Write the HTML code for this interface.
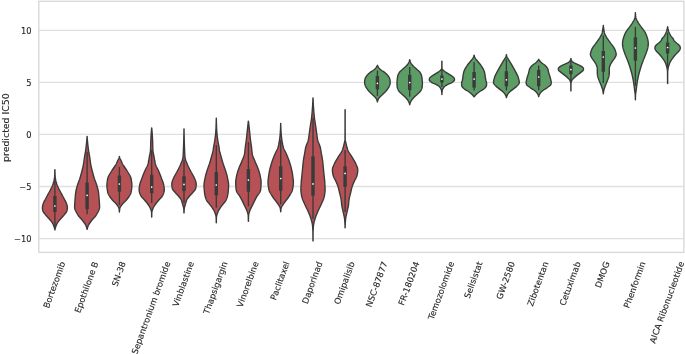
<!DOCTYPE html>
<html><head><meta charset="utf-8"><title>predicted IC50 violin plot</title>
<style>
html,body{margin:0;padding:0;background:#fff;}
svg{display:block}
text{font-family:"DejaVu Sans","Liberation Sans",sans-serif;font-size:8.3px;fill:#262626;stroke:#262626;stroke-width:0.12px}
</style></head>
<body>
<svg width="685" height="354" viewBox="0 0 685 354">
<rect x="0" y="0" width="685" height="354" fill="#ffffff"/>
<g id="grid">
<line x1="38.8" x2="683.9" y1="30.3" y2="30.3" stroke="#e0e0e0" stroke-width="1.3"/>
<line x1="38.8" x2="683.9" y1="82.3" y2="82.3" stroke="#e0e0e0" stroke-width="1.3"/>
<line x1="38.8" x2="683.9" y1="134.4" y2="134.4" stroke="#e0e0e0" stroke-width="1.3"/>
<line x1="38.8" x2="683.9" y1="186.5" y2="186.5" stroke="#e0e0e0" stroke-width="1.3"/>
<line x1="38.8" x2="683.9" y1="238.6" y2="238.6" stroke="#e0e0e0" stroke-width="1.3"/>
</g>
<g id="violins">
<path d="M54.85,169.70 54.84,170.45 54.83,171.20 54.81,171.95 54.79,172.70 54.77,173.45 54.74,174.20 54.72,174.95 54.68,175.70 54.64,176.45 54.58,177.20 54.49,177.95 54.36,178.70 54.21,179.45 54.06,180.20 53.88,180.95 53.68,181.70 53.46,182.45 53.24,183.20 53.01,183.95 52.76,184.70 52.48,185.45 52.18,186.20 51.84,186.95 51.49,187.70 51.12,188.45 50.74,189.20 50.35,189.95 49.95,190.70 49.55,191.45 49.16,192.20 48.76,192.95 48.36,193.70 47.95,194.45 47.53,195.20 47.13,195.95 46.73,196.70 46.33,197.45 45.93,198.20 45.54,198.95 45.15,199.70 44.77,200.45 44.36,201.20 43.95,201.95 43.60,202.70 43.32,203.45 43.09,204.20 42.87,204.95 42.68,205.70 42.52,206.45 42.43,207.20 42.40,207.95 42.45,208.70 42.56,209.45 42.71,210.20 42.89,210.95 43.19,211.70 43.68,212.45 44.29,213.20 44.91,213.95 45.49,214.70 46.12,215.45 46.79,216.20 47.48,216.95 48.17,217.70 48.85,218.45 49.51,219.20 50.13,219.95 50.70,220.70 51.28,221.45 51.84,222.20 52.35,222.95 52.80,223.70 53.17,224.45 53.49,225.20 53.79,225.95 54.07,226.70 54.32,227.45 54.54,228.20 54.71,228.95 54.83,229.70 54.85,229.90 54.95,229.90 54.97,229.70 55.09,228.95 55.26,228.20 55.48,227.45 55.73,226.70 56.01,225.95 56.31,225.20 56.63,224.45 57.00,223.70 57.45,222.95 57.96,222.20 58.52,221.45 59.10,220.70 59.67,219.95 60.29,219.20 60.95,218.45 61.63,217.70 62.32,216.95 63.01,216.20 63.68,215.45 64.31,214.70 64.89,213.95 65.51,213.20 66.12,212.45 66.61,211.70 66.91,210.95 67.09,210.20 67.24,209.45 67.35,208.70 67.40,207.95 67.37,207.20 67.28,206.45 67.12,205.70 66.93,204.95 66.71,204.20 66.48,203.45 66.20,202.70 65.85,201.95 65.44,201.20 65.03,200.45 64.65,199.70 64.26,198.95 63.87,198.20 63.47,197.45 63.07,196.70 62.67,195.95 62.27,195.20 61.85,194.45 61.44,193.70 61.04,192.95 60.64,192.20 60.25,191.45 59.85,190.70 59.45,189.95 59.06,189.20 58.68,188.45 58.31,187.70 57.96,186.95 57.62,186.20 57.32,185.45 57.04,184.70 56.79,183.95 56.56,183.20 56.34,182.45 56.12,181.70 55.92,180.95 55.74,180.20 55.59,179.45 55.44,178.70 55.31,177.95 55.22,177.20 55.16,176.45 55.12,175.70 55.08,174.95 55.06,174.20 55.03,173.45 55.01,172.70 54.99,171.95 54.97,171.20 54.96,170.45 54.95,169.70Z" fill="#b65255" stroke="#3a3a3a" stroke-width="1.38" stroke-linejoin="round"/>
<line x1="54.9" x2="54.9" y1="180" y2="227" stroke="#3a3a3a" stroke-width="1.35"/>
<line x1="54.9" x2="54.9" y1="196" y2="212" stroke="#3a3a3a" stroke-width="3.4"/>
<circle cx="54.9" cy="206" r="0.85" fill="#fff"/>
<path d="M87.05,136.50 87.01,137.25 86.96,138.00 86.91,138.75 86.85,139.50 86.79,140.25 86.72,141.00 86.65,141.75 86.58,142.50 86.50,143.25 86.43,144.00 86.34,144.75 86.26,145.50 86.17,146.25 86.08,147.00 85.99,147.75 85.89,148.50 85.80,149.25 85.70,150.00 85.59,150.75 85.48,151.50 85.35,152.25 85.21,153.00 85.07,153.75 84.93,154.50 84.80,155.25 84.66,156.00 84.54,156.75 84.43,157.50 84.32,158.25 84.22,159.00 84.12,159.75 84.03,160.50 83.93,161.25 83.83,162.00 83.73,162.75 83.62,163.50 83.49,164.25 83.35,165.00 83.20,165.75 83.04,166.50 82.87,167.25 82.70,168.00 82.52,168.75 82.33,169.50 82.14,170.25 81.95,171.00 81.76,171.75 81.57,172.50 81.37,173.25 81.16,174.00 80.95,174.75 80.74,175.50 80.52,176.25 80.30,177.00 80.07,177.75 79.84,178.50 79.59,179.25 79.32,180.00 79.04,180.75 78.76,181.50 78.47,182.25 78.20,183.00 77.93,183.75 77.67,184.50 77.44,185.25 77.23,186.00 77.01,186.75 76.80,187.50 76.60,188.25 76.40,189.00 76.22,189.75 76.05,190.50 75.90,191.25 75.77,192.00 75.67,192.75 75.57,193.50 75.49,194.25 75.41,195.00 75.33,195.75 75.27,196.50 75.20,197.25 75.15,198.00 75.09,198.75 75.04,199.50 74.98,200.25 74.93,201.00 74.87,201.75 74.81,202.50 74.76,203.25 74.71,204.00 74.67,204.75 74.63,205.50 74.61,206.25 74.60,207.00 74.64,207.75 74.77,208.50 74.97,209.25 75.25,210.00 75.57,210.75 75.94,211.50 76.34,212.25 76.75,213.00 77.16,213.75 77.57,214.50 78.05,215.25 78.62,216.00 79.24,216.75 79.91,217.50 80.59,218.25 81.27,219.00 81.94,219.75 82.57,220.50 83.14,221.25 83.69,222.00 84.24,222.75 84.77,223.50 85.26,224.25 85.67,225.00 86.00,225.75 86.29,226.50 86.55,227.25 86.77,228.00 86.94,228.75 87.05,229.40 87.15,229.40 87.26,228.75 87.43,228.00 87.65,227.25 87.91,226.50 88.20,225.75 88.53,225.00 88.94,224.25 89.43,223.50 89.96,222.75 90.51,222.00 91.06,221.25 91.63,220.50 92.26,219.75 92.93,219.00 93.61,218.25 94.29,217.50 94.96,216.75 95.58,216.00 96.15,215.25 96.63,214.50 97.04,213.75 97.45,213.00 97.86,212.25 98.26,211.50 98.63,210.75 98.95,210.00 99.23,209.25 99.43,208.50 99.56,207.75 99.60,207.00 99.59,206.25 99.57,205.50 99.53,204.75 99.49,204.00 99.44,203.25 99.39,202.50 99.33,201.75 99.27,201.00 99.22,200.25 99.16,199.50 99.11,198.75 99.05,198.00 99.00,197.25 98.93,196.50 98.87,195.75 98.79,195.00 98.71,194.25 98.63,193.50 98.53,192.75 98.43,192.00 98.30,191.25 98.15,190.50 97.98,189.75 97.80,189.00 97.60,188.25 97.40,187.50 97.19,186.75 96.97,186.00 96.76,185.25 96.53,184.50 96.27,183.75 96.00,183.00 95.73,182.25 95.44,181.50 95.16,180.75 94.88,180.00 94.61,179.25 94.36,178.50 94.13,177.75 93.90,177.00 93.68,176.25 93.46,175.50 93.25,174.75 93.04,174.00 92.83,173.25 92.63,172.50 92.44,171.75 92.25,171.00 92.06,170.25 91.87,169.50 91.68,168.75 91.50,168.00 91.33,167.25 91.16,166.50 91.00,165.75 90.85,165.00 90.71,164.25 90.58,163.50 90.47,162.75 90.37,162.00 90.27,161.25 90.17,160.50 90.08,159.75 89.98,159.00 89.88,158.25 89.77,157.50 89.66,156.75 89.54,156.00 89.40,155.25 89.27,154.50 89.13,153.75 88.99,153.00 88.85,152.25 88.72,151.50 88.61,150.75 88.50,150.00 88.40,149.25 88.31,148.50 88.21,147.75 88.12,147.00 88.03,146.25 87.94,145.50 87.86,144.75 87.77,144.00 87.70,143.25 87.62,142.50 87.55,141.75 87.48,141.00 87.41,140.25 87.35,139.50 87.29,138.75 87.24,138.00 87.19,137.25 87.15,136.50Z" fill="#b65255" stroke="#3a3a3a" stroke-width="1.38" stroke-linejoin="round"/>
<line x1="87.1" x2="87.1" y1="151.7" y2="214.2" stroke="#3a3a3a" stroke-width="1.35"/>
<line x1="87.1" x2="87.1" y1="182.6" y2="209.2" stroke="#3a3a3a" stroke-width="3.4"/>
<circle cx="87.1" cy="195.3" r="0.85" fill="#fff"/>
<path d="M119.35,156.50 119.21,157.25 119.00,158.00 118.68,158.75 118.26,159.50 117.88,160.25 117.55,161.00 117.23,161.75 116.90,162.50 116.57,163.25 116.20,164.00 115.80,164.75 115.34,165.50 114.85,166.25 114.34,167.00 113.81,167.75 113.28,168.50 112.76,169.25 112.25,170.00 111.77,170.75 111.32,171.50 110.86,172.25 110.39,173.00 109.92,173.75 109.46,174.50 109.03,175.25 108.63,176.00 108.29,176.75 108.01,177.50 107.81,178.25 107.66,179.00 107.52,179.75 107.38,180.50 107.26,181.25 107.15,182.00 107.06,182.75 106.98,183.50 106.93,184.25 106.90,185.00 106.90,185.75 106.93,186.50 106.98,187.25 107.05,188.00 107.14,188.75 107.24,189.50 107.37,190.25 107.50,191.00 107.65,191.75 107.80,192.50 108.00,193.25 108.29,194.00 108.66,194.75 109.09,195.50 109.57,196.25 110.10,197.00 110.66,197.75 111.23,198.50 111.82,199.25 112.40,200.00 113.05,200.75 113.82,201.50 114.63,202.25 115.43,203.00 116.14,203.75 116.72,204.50 117.28,205.25 117.82,206.00 118.30,206.75 118.69,207.50 118.95,208.25 119.08,209.00 119.18,209.75 119.27,210.50 119.33,211.25 119.35,212.00 119.35,212.10 119.45,212.10 119.45,212.00 119.47,211.25 119.53,210.50 119.62,209.75 119.72,209.00 119.85,208.25 120.11,207.50 120.50,206.75 120.98,206.00 121.52,205.25 122.08,204.50 122.66,203.75 123.37,203.00 124.17,202.25 124.98,201.50 125.75,200.75 126.40,200.00 126.98,199.25 127.57,198.50 128.14,197.75 128.70,197.00 129.23,196.25 129.71,195.50 130.14,194.75 130.51,194.00 130.80,193.25 131.00,192.50 131.15,191.75 131.30,191.00 131.43,190.25 131.56,189.50 131.66,188.75 131.75,188.00 131.82,187.25 131.87,186.50 131.90,185.75 131.90,185.00 131.87,184.25 131.82,183.50 131.74,182.75 131.65,182.00 131.54,181.25 131.42,180.50 131.28,179.75 131.14,179.00 130.99,178.25 130.79,177.50 130.51,176.75 130.17,176.00 129.77,175.25 129.34,174.50 128.88,173.75 128.41,173.00 127.94,172.25 127.48,171.50 127.03,170.75 126.55,170.00 126.04,169.25 125.52,168.50 124.99,167.75 124.46,167.00 123.95,166.25 123.46,165.50 123.00,164.75 122.60,164.00 122.23,163.25 121.90,162.50 121.57,161.75 121.25,161.00 120.92,160.25 120.54,159.50 120.12,158.75 119.80,158.00 119.59,157.25 119.45,156.50Z" fill="#b65255" stroke="#3a3a3a" stroke-width="1.38" stroke-linejoin="round"/>
<line x1="119.4" x2="119.4" y1="167" y2="205" stroke="#3a3a3a" stroke-width="1.35"/>
<line x1="119.4" x2="119.4" y1="175.5" y2="191.8" stroke="#3a3a3a" stroke-width="3.4"/>
<circle cx="119.4" cy="184" r="0.85" fill="#fff"/>
<path d="M151.65,128.00 151.58,128.75 151.52,129.50 151.46,130.25 151.39,131.00 151.33,131.75 151.28,132.50 151.22,133.25 151.17,134.00 151.11,134.75 151.06,135.50 151.02,136.25 150.97,137.00 150.93,137.75 150.89,138.50 150.85,139.25 150.82,140.00 150.79,140.75 150.76,141.50 150.74,142.25 150.72,143.00 150.70,143.75 150.68,144.50 150.66,145.25 150.65,146.00 150.63,146.75 150.60,147.50 150.58,148.25 150.55,149.00 150.51,149.75 150.47,150.50 150.39,151.25 150.29,152.00 150.16,152.75 150.02,153.50 149.87,154.25 149.72,155.00 149.56,155.75 149.41,156.50 149.27,157.25 149.14,158.00 149.01,158.75 148.88,159.50 148.75,160.25 148.62,161.00 148.47,161.75 148.32,162.50 148.15,163.25 147.95,164.00 147.73,164.75 147.46,165.50 147.13,166.25 146.78,167.00 146.40,167.75 146.02,168.50 145.63,169.25 145.25,170.00 144.90,170.75 144.57,171.50 144.26,172.25 143.95,173.00 143.64,173.75 143.34,174.50 143.04,175.25 142.75,176.00 142.47,176.75 142.19,177.50 141.92,178.25 141.65,179.00 141.36,179.75 141.08,180.50 140.80,181.25 140.53,182.00 140.27,182.75 140.04,183.50 139.84,184.25 139.67,185.00 139.54,185.75 139.42,186.50 139.30,187.25 139.21,188.00 139.14,188.75 139.10,189.50 139.12,190.25 139.21,191.00 139.36,191.75 139.56,192.50 139.81,193.25 140.08,194.00 140.38,194.75 140.69,195.50 141.14,196.25 141.72,197.00 142.40,197.75 143.13,198.50 143.84,199.25 144.50,200.00 145.13,200.75 145.77,201.50 146.40,202.25 147.01,203.00 147.58,203.75 148.10,204.50 148.61,205.25 149.09,206.00 149.55,206.75 149.95,207.50 150.30,208.25 150.59,209.00 150.89,209.75 151.16,210.50 151.38,211.25 151.54,212.00 151.60,212.75 151.62,213.50 151.63,214.25 151.64,215.00 151.65,215.75 151.65,216.50 151.65,217.10 151.75,217.10 151.75,216.50 151.75,215.75 151.76,215.00 151.77,214.25 151.78,213.50 151.80,212.75 151.86,212.00 152.02,211.25 152.24,210.50 152.51,209.75 152.81,209.00 153.10,208.25 153.45,207.50 153.85,206.75 154.31,206.00 154.79,205.25 155.30,204.50 155.82,203.75 156.39,203.00 157.00,202.25 157.63,201.50 158.27,200.75 158.90,200.00 159.56,199.25 160.27,198.50 161.00,197.75 161.68,197.00 162.26,196.25 162.71,195.50 163.02,194.75 163.32,194.00 163.59,193.25 163.84,192.50 164.04,191.75 164.19,191.00 164.28,190.25 164.30,189.50 164.26,188.75 164.19,188.00 164.10,187.25 163.98,186.50 163.86,185.75 163.73,185.00 163.56,184.25 163.36,183.50 163.13,182.75 162.87,182.00 162.60,181.25 162.32,180.50 162.04,179.75 161.75,179.00 161.48,178.25 161.21,177.50 160.93,176.75 160.65,176.00 160.36,175.25 160.06,174.50 159.76,173.75 159.45,173.00 159.14,172.25 158.83,171.50 158.50,170.75 158.15,170.00 157.77,169.25 157.38,168.50 157.00,167.75 156.62,167.00 156.27,166.25 155.94,165.50 155.67,164.75 155.45,164.00 155.25,163.25 155.08,162.50 154.93,161.75 154.78,161.00 154.65,160.25 154.52,159.50 154.39,158.75 154.26,158.00 154.13,157.25 153.99,156.50 153.84,155.75 153.68,155.00 153.53,154.25 153.38,153.50 153.24,152.75 153.11,152.00 153.01,151.25 152.93,150.50 152.89,149.75 152.85,149.00 152.82,148.25 152.80,147.50 152.77,146.75 152.75,146.00 152.74,145.25 152.72,144.50 152.70,143.75 152.68,143.00 152.66,142.25 152.64,141.50 152.61,140.75 152.58,140.00 152.55,139.25 152.51,138.50 152.47,137.75 152.43,137.00 152.38,136.25 152.34,135.50 152.29,134.75 152.23,134.00 152.18,133.25 152.12,132.50 152.07,131.75 152.01,131.00 151.94,130.25 151.88,129.50 151.82,128.75 151.75,128.00Z" fill="#b65255" stroke="#3a3a3a" stroke-width="1.38" stroke-linejoin="round"/>
<line x1="151.7" x2="151.7" y1="150" y2="203" stroke="#3a3a3a" stroke-width="1.35"/>
<line x1="151.7" x2="151.7" y1="174.8" y2="193.2" stroke="#3a3a3a" stroke-width="3.4"/>
<circle cx="151.7" cy="187.1" r="0.85" fill="#fff"/>
<path d="M183.95,129.00 183.95,129.75 183.94,130.50 183.93,131.25 183.93,132.00 183.92,132.75 183.90,133.50 183.89,134.25 183.88,135.00 183.86,135.75 183.84,136.50 183.83,137.25 183.81,138.00 183.79,138.75 183.77,139.50 183.74,140.25 183.72,141.00 183.70,141.75 183.67,142.50 183.65,143.25 183.62,144.00 183.59,144.75 183.57,145.50 183.54,146.25 183.51,147.00 183.49,147.75 183.46,148.50 183.43,149.25 183.40,150.00 183.37,150.75 183.34,151.50 183.31,152.25 183.28,153.00 183.24,153.75 183.20,154.50 183.15,155.25 183.10,156.00 183.03,156.75 182.95,157.50 182.82,158.25 182.64,159.00 182.42,159.75 182.16,160.50 181.88,161.25 181.59,162.00 181.28,162.75 180.98,163.50 180.68,164.25 180.37,165.00 180.04,165.75 179.70,166.50 179.33,167.25 178.95,168.00 178.57,168.75 178.18,169.50 177.79,170.25 177.40,171.00 177.01,171.75 176.60,172.50 176.16,173.25 175.72,174.00 175.28,174.75 174.86,175.50 174.45,176.25 174.07,177.00 173.72,177.75 173.42,178.50 173.12,179.25 172.82,180.00 172.53,180.75 172.26,181.50 172.04,182.25 171.88,183.00 171.81,183.75 171.81,184.50 171.84,185.25 171.90,186.00 171.99,186.75 172.09,187.50 172.21,188.25 172.47,189.00 172.91,189.75 173.48,190.50 174.13,191.25 174.79,192.00 175.40,192.75 176.07,193.50 176.79,194.25 177.51,195.00 178.19,195.75 178.81,196.50 179.43,197.25 180.04,198.00 180.59,198.75 181.05,199.50 181.41,200.25 181.69,201.00 181.93,201.75 182.14,202.50 182.34,203.25 182.54,204.00 182.76,204.75 182.99,205.50 183.22,206.25 183.43,207.00 183.59,207.75 183.70,208.50 183.77,209.25 183.83,210.00 183.88,210.75 183.92,211.50 183.94,212.25 183.95,212.90 184.05,212.90 184.06,212.25 184.08,211.50 184.12,210.75 184.17,210.00 184.23,209.25 184.30,208.50 184.41,207.75 184.57,207.00 184.78,206.25 185.01,205.50 185.24,204.75 185.46,204.00 185.66,203.25 185.86,202.50 186.07,201.75 186.31,201.00 186.59,200.25 186.95,199.50 187.41,198.75 187.96,198.00 188.57,197.25 189.19,196.50 189.81,195.75 190.49,195.00 191.21,194.25 191.93,193.50 192.60,192.75 193.21,192.00 193.87,191.25 194.52,190.50 195.09,189.75 195.53,189.00 195.79,188.25 195.91,187.50 196.01,186.75 196.10,186.00 196.16,185.25 196.19,184.50 196.19,183.75 196.12,183.00 195.96,182.25 195.74,181.50 195.47,180.75 195.18,180.00 194.88,179.25 194.58,178.50 194.28,177.75 193.93,177.00 193.55,176.25 193.14,175.50 192.72,174.75 192.28,174.00 191.84,173.25 191.40,172.50 190.99,171.75 190.60,171.00 190.21,170.25 189.82,169.50 189.43,168.75 189.05,168.00 188.67,167.25 188.30,166.50 187.96,165.75 187.63,165.00 187.32,164.25 187.02,163.50 186.72,162.75 186.41,162.00 186.12,161.25 185.84,160.50 185.58,159.75 185.36,159.00 185.18,158.25 185.05,157.50 184.97,156.75 184.90,156.00 184.85,155.25 184.80,154.50 184.76,153.75 184.72,153.00 184.69,152.25 184.66,151.50 184.63,150.75 184.60,150.00 184.57,149.25 184.54,148.50 184.51,147.75 184.49,147.00 184.46,146.25 184.43,145.50 184.41,144.75 184.38,144.00 184.35,143.25 184.33,142.50 184.30,141.75 184.28,141.00 184.26,140.25 184.23,139.50 184.21,138.75 184.19,138.00 184.17,137.25 184.16,136.50 184.14,135.75 184.12,135.00 184.11,134.25 184.10,133.50 184.08,132.75 184.07,132.00 184.07,131.25 184.06,130.50 184.05,129.75 184.05,129.00Z" fill="#b65255" stroke="#3a3a3a" stroke-width="1.38" stroke-linejoin="round"/>
<line x1="184.0" x2="184.0" y1="160" y2="203" stroke="#3a3a3a" stroke-width="1.35"/>
<line x1="184.0" x2="184.0" y1="176.2" y2="191.1" stroke="#3a3a3a" stroke-width="3.4"/>
<circle cx="184.0" cy="184.4" r="0.85" fill="#fff"/>
<path d="M216.25,118.30 216.25,119.05 216.24,119.80 216.23,120.55 216.22,121.30 216.20,122.05 216.18,122.80 216.16,123.55 216.14,124.30 216.11,125.05 216.08,125.80 216.05,126.55 216.02,127.30 215.99,128.05 215.96,128.80 215.92,129.55 215.89,130.30 215.84,131.05 215.79,131.80 215.73,132.55 215.66,133.30 215.59,134.05 215.51,134.80 215.43,135.55 215.34,136.30 215.24,137.05 215.15,137.80 215.05,138.55 214.95,139.30 214.85,140.05 214.74,140.80 214.62,141.55 214.48,142.30 214.34,143.05 214.18,143.80 214.03,144.55 213.88,145.30 213.74,146.05 213.61,146.80 213.49,147.55 213.40,148.30 213.32,149.05 213.23,149.80 213.11,150.55 212.96,151.30 212.79,152.05 212.61,152.80 212.41,153.55 212.20,154.30 211.98,155.05 211.77,155.80 211.55,156.55 211.35,157.30 211.14,158.05 210.93,158.80 210.71,159.55 210.49,160.30 210.27,161.05 210.05,161.80 209.82,162.55 209.58,163.30 209.35,164.05 209.10,164.80 208.85,165.55 208.59,166.30 208.32,167.05 208.05,167.80 207.78,168.55 207.52,169.30 207.26,170.05 207.02,170.80 206.79,171.55 206.57,172.30 206.34,173.05 206.12,173.80 205.90,174.55 205.70,175.30 205.50,176.05 205.32,176.80 205.15,177.55 205.00,178.30 204.86,179.05 204.71,179.80 204.57,180.55 204.43,181.30 204.30,182.05 204.19,182.80 204.10,183.55 204.04,184.30 204.00,185.05 204.00,185.80 204.02,186.55 204.05,187.30 204.09,188.05 204.14,188.80 204.20,189.55 204.27,190.30 204.35,191.05 204.42,191.80 204.51,192.55 204.60,193.30 204.72,194.05 204.85,194.80 205.01,195.55 205.19,196.30 205.39,197.05 205.62,197.80 205.86,198.55 206.13,199.30 206.42,200.05 206.82,200.80 207.36,201.55 207.99,202.30 208.65,203.05 209.29,203.80 209.87,204.55 210.45,205.30 211.05,206.05 211.63,206.80 212.18,207.55 212.68,208.30 213.12,209.05 213.55,209.80 213.95,210.55 214.32,211.30 214.65,212.05 214.94,212.80 215.21,213.55 215.48,214.30 215.73,215.05 215.93,215.80 216.06,216.55 216.11,217.30 216.15,218.05 216.18,218.80 216.20,219.55 216.22,220.30 216.24,221.05 216.25,221.80 216.25,222.55 216.25,222.80 216.35,222.80 216.35,222.55 216.35,221.80 216.36,221.05 216.38,220.30 216.40,219.55 216.42,218.80 216.45,218.05 216.49,217.30 216.54,216.55 216.67,215.80 216.87,215.05 217.12,214.30 217.39,213.55 217.66,212.80 217.95,212.05 218.28,211.30 218.65,210.55 219.05,209.80 219.48,209.05 219.92,208.30 220.42,207.55 220.97,206.80 221.55,206.05 222.15,205.30 222.73,204.55 223.31,203.80 223.95,203.05 224.61,202.30 225.24,201.55 225.78,200.80 226.18,200.05 226.47,199.30 226.74,198.55 226.98,197.80 227.21,197.05 227.41,196.30 227.59,195.55 227.75,194.80 227.88,194.05 228.00,193.30 228.09,192.55 228.18,191.80 228.25,191.05 228.33,190.30 228.40,189.55 228.46,188.80 228.51,188.05 228.55,187.30 228.58,186.55 228.60,185.80 228.60,185.05 228.56,184.30 228.50,183.55 228.41,182.80 228.30,182.05 228.17,181.30 228.03,180.55 227.89,179.80 227.74,179.05 227.60,178.30 227.45,177.55 227.28,176.80 227.10,176.05 226.90,175.30 226.70,174.55 226.48,173.80 226.26,173.05 226.03,172.30 225.81,171.55 225.58,170.80 225.34,170.05 225.08,169.30 224.82,168.55 224.55,167.80 224.28,167.05 224.01,166.30 223.75,165.55 223.50,164.80 223.25,164.05 223.02,163.30 222.78,162.55 222.55,161.80 222.33,161.05 222.11,160.30 221.89,159.55 221.67,158.80 221.46,158.05 221.25,157.30 221.05,156.55 220.83,155.80 220.62,155.05 220.40,154.30 220.19,153.55 219.99,152.80 219.81,152.05 219.64,151.30 219.49,150.55 219.37,149.80 219.28,149.05 219.20,148.30 219.11,147.55 218.99,146.80 218.86,146.05 218.72,145.30 218.57,144.55 218.42,143.80 218.26,143.05 218.12,142.30 217.98,141.55 217.86,140.80 217.75,140.05 217.65,139.30 217.55,138.55 217.45,137.80 217.36,137.05 217.26,136.30 217.17,135.55 217.09,134.80 217.01,134.05 216.94,133.30 216.87,132.55 216.81,131.80 216.76,131.05 216.71,130.30 216.68,129.55 216.64,128.80 216.61,128.05 216.58,127.30 216.55,126.55 216.52,125.80 216.49,125.05 216.46,124.30 216.44,123.55 216.42,122.80 216.40,122.05 216.38,121.30 216.37,120.55 216.36,119.80 216.35,119.05 216.35,118.30Z" fill="#b65255" stroke="#3a3a3a" stroke-width="1.38" stroke-linejoin="round"/>
<line x1="216.3" x2="216.3" y1="145" y2="207.8" stroke="#3a3a3a" stroke-width="1.35"/>
<line x1="216.3" x2="216.3" y1="172" y2="195.3" stroke="#3a3a3a" stroke-width="3.4"/>
<circle cx="216.3" cy="185" r="0.85" fill="#fff"/>
<path d="M248.35,121.10 248.27,121.85 248.18,122.60 248.10,123.35 248.02,124.10 247.93,124.85 247.85,125.60 247.77,126.35 247.69,127.10 247.61,127.85 247.52,128.60 247.44,129.35 247.36,130.10 247.28,130.85 247.20,131.60 247.12,132.35 247.04,133.10 246.96,133.85 246.88,134.60 246.80,135.35 246.73,136.10 246.65,136.85 246.57,137.60 246.49,138.35 246.41,139.10 246.32,139.85 246.22,140.60 246.12,141.35 246.02,142.10 245.91,142.85 245.80,143.60 245.68,144.35 245.57,145.10 245.47,145.85 245.36,146.60 245.27,147.35 245.19,148.10 245.11,148.85 245.04,149.60 244.97,150.35 244.90,151.10 244.82,151.85 244.73,152.60 244.63,153.35 244.52,154.10 244.37,154.85 244.16,155.60 243.92,156.35 243.64,157.10 243.33,157.85 243.01,158.60 242.68,159.35 242.36,160.10 242.04,160.85 241.74,161.60 241.43,162.35 241.10,163.10 240.77,163.85 240.43,164.60 240.10,165.35 239.77,166.10 239.46,166.85 239.16,167.60 238.88,168.35 238.61,169.10 238.34,169.85 238.08,170.60 237.82,171.35 237.57,172.10 237.34,172.85 237.12,173.60 236.93,174.35 236.76,175.10 236.61,175.85 236.46,176.60 236.32,177.35 236.18,178.10 236.04,178.85 235.93,179.60 235.83,180.35 235.76,181.10 235.71,181.85 235.70,182.60 235.71,183.35 235.73,184.10 235.76,184.85 235.80,185.60 235.84,186.35 235.90,187.10 235.97,187.85 236.04,188.60 236.12,189.35 236.21,190.10 236.39,190.85 236.70,191.60 237.10,192.35 237.57,193.10 238.09,193.85 238.64,194.60 239.18,195.35 239.69,196.10 240.16,196.85 240.57,197.60 240.97,198.35 241.36,199.10 241.75,199.85 242.13,200.60 242.50,201.35 242.88,202.10 243.25,202.85 243.61,203.60 243.97,204.35 244.34,205.10 244.72,205.85 245.10,206.60 245.47,207.35 245.83,208.10 246.18,208.85 246.51,209.60 246.80,210.35 247.07,211.10 247.31,211.85 247.56,212.60 247.80,213.35 247.99,214.10 248.14,214.85 248.20,215.60 248.24,216.35 248.27,217.10 248.29,217.85 248.32,218.60 248.33,219.35 248.34,220.10 248.35,220.85 248.35,221.30 248.45,221.30 248.45,220.85 248.46,220.10 248.47,219.35 248.48,218.60 248.51,217.85 248.53,217.10 248.56,216.35 248.60,215.60 248.66,214.85 248.81,214.10 249.00,213.35 249.24,212.60 249.49,211.85 249.73,211.10 250.00,210.35 250.29,209.60 250.62,208.85 250.97,208.10 251.33,207.35 251.70,206.60 252.08,205.85 252.46,205.10 252.83,204.35 253.19,203.60 253.55,202.85 253.92,202.10 254.30,201.35 254.67,200.60 255.05,199.85 255.44,199.10 255.83,198.35 256.23,197.60 256.64,196.85 257.11,196.10 257.62,195.35 258.16,194.60 258.71,193.85 259.23,193.10 259.70,192.35 260.10,191.60 260.41,190.85 260.59,190.10 260.68,189.35 260.76,188.60 260.83,187.85 260.90,187.10 260.96,186.35 261.00,185.60 261.04,184.85 261.07,184.10 261.09,183.35 261.10,182.60 261.09,181.85 261.04,181.10 260.97,180.35 260.87,179.60 260.76,178.85 260.62,178.10 260.48,177.35 260.34,176.60 260.19,175.85 260.04,175.10 259.87,174.35 259.68,173.60 259.46,172.85 259.23,172.10 258.98,171.35 258.72,170.60 258.46,169.85 258.19,169.10 257.92,168.35 257.64,167.60 257.34,166.85 257.03,166.10 256.70,165.35 256.37,164.60 256.03,163.85 255.70,163.10 255.37,162.35 255.06,161.60 254.76,160.85 254.44,160.10 254.12,159.35 253.79,158.60 253.47,157.85 253.16,157.10 252.88,156.35 252.64,155.60 252.43,154.85 252.28,154.10 252.17,153.35 252.07,152.60 251.98,151.85 251.90,151.10 251.83,150.35 251.76,149.60 251.69,148.85 251.61,148.10 251.53,147.35 251.44,146.60 251.33,145.85 251.23,145.10 251.12,144.35 251.00,143.60 250.89,142.85 250.78,142.10 250.68,141.35 250.58,140.60 250.48,139.85 250.39,139.10 250.31,138.35 250.23,137.60 250.15,136.85 250.07,136.10 250.00,135.35 249.92,134.60 249.84,133.85 249.76,133.10 249.68,132.35 249.60,131.60 249.52,130.85 249.44,130.10 249.36,129.35 249.28,128.60 249.19,127.85 249.11,127.10 249.03,126.35 248.95,125.60 248.87,124.85 248.78,124.10 248.70,123.35 248.62,122.60 248.53,121.85 248.45,121.10Z" fill="#b65255" stroke="#3a3a3a" stroke-width="1.38" stroke-linejoin="round"/>
<line x1="248.4" x2="248.4" y1="142" y2="206.3" stroke="#3a3a3a" stroke-width="1.35"/>
<line x1="248.4" x2="248.4" y1="169" y2="191.7" stroke="#3a3a3a" stroke-width="3.4"/>
<circle cx="248.4" cy="180.1" r="0.85" fill="#fff"/>
<path d="M280.65,123.50 280.65,124.25 280.63,125.00 280.62,125.75 280.60,126.50 280.57,127.25 280.54,128.00 280.50,128.75 280.47,129.50 280.43,130.25 280.39,131.00 280.34,131.75 280.30,132.50 280.25,133.25 280.19,134.00 280.13,134.75 280.06,135.50 279.98,136.25 279.89,137.00 279.80,137.75 279.70,138.50 279.60,139.25 279.50,140.00 279.39,140.75 279.28,141.50 279.16,142.25 279.02,143.00 278.88,143.75 278.73,144.50 278.56,145.25 278.39,146.00 278.19,146.75 277.98,147.50 277.72,148.25 277.41,149.00 277.07,149.75 276.70,150.50 276.32,151.25 275.94,152.00 275.56,152.75 275.21,153.50 274.88,154.25 274.57,155.00 274.26,155.75 273.96,156.50 273.66,157.25 273.36,158.00 273.08,158.75 272.80,159.50 272.53,160.25 272.27,161.00 272.02,161.75 271.77,162.50 271.53,163.25 271.29,164.00 271.06,164.75 270.84,165.50 270.63,166.25 270.43,167.00 270.23,167.75 270.05,168.50 269.88,169.25 269.71,170.00 269.54,170.75 269.38,171.50 269.23,172.25 269.08,173.00 268.95,173.75 268.83,174.50 268.72,175.25 268.62,176.00 268.52,176.75 268.42,177.50 268.32,178.25 268.23,179.00 268.15,179.75 268.08,180.50 268.03,181.25 268.01,182.00 268.00,182.75 268.02,183.50 268.07,184.25 268.14,185.00 268.23,185.75 268.34,186.50 268.46,187.25 268.59,188.00 268.74,188.75 268.89,189.50 269.06,190.25 269.29,191.00 269.60,191.75 269.98,192.50 270.40,193.25 270.87,194.00 271.35,194.75 271.85,195.50 272.35,196.25 272.84,197.00 273.33,197.75 273.86,198.50 274.42,199.25 275.01,200.00 275.60,200.75 276.19,201.50 276.76,202.25 277.31,203.00 277.82,203.75 278.28,204.50 278.77,205.25 279.25,206.00 279.68,206.75 280.04,207.50 280.27,208.25 280.40,209.00 280.50,209.75 280.59,210.50 280.64,211.25 280.65,211.80 280.75,211.80 280.76,211.25 280.81,210.50 280.90,209.75 281.00,209.00 281.13,208.25 281.36,207.50 281.72,206.75 282.15,206.00 282.63,205.25 283.12,204.50 283.58,203.75 284.09,203.00 284.64,202.25 285.21,201.50 285.80,200.75 286.39,200.00 286.98,199.25 287.54,198.50 288.07,197.75 288.56,197.00 289.05,196.25 289.55,195.50 290.05,194.75 290.53,194.00 291.00,193.25 291.42,192.50 291.80,191.75 292.11,191.00 292.34,190.25 292.51,189.50 292.66,188.75 292.81,188.00 292.94,187.25 293.06,186.50 293.17,185.75 293.26,185.00 293.33,184.25 293.38,183.50 293.40,182.75 293.39,182.00 293.37,181.25 293.32,180.50 293.25,179.75 293.17,179.00 293.08,178.25 292.98,177.50 292.88,176.75 292.78,176.00 292.68,175.25 292.57,174.50 292.45,173.75 292.32,173.00 292.17,172.25 292.02,171.50 291.86,170.75 291.69,170.00 291.52,169.25 291.35,168.50 291.17,167.75 290.97,167.00 290.77,166.25 290.56,165.50 290.34,164.75 290.11,164.00 289.87,163.25 289.63,162.50 289.38,161.75 289.13,161.00 288.87,160.25 288.60,159.50 288.32,158.75 288.04,158.00 287.74,157.25 287.44,156.50 287.14,155.75 286.83,155.00 286.52,154.25 286.19,153.50 285.84,152.75 285.46,152.00 285.08,151.25 284.70,150.50 284.33,149.75 283.99,149.00 283.68,148.25 283.42,147.50 283.21,146.75 283.01,146.00 282.84,145.25 282.67,144.50 282.52,143.75 282.38,143.00 282.24,142.25 282.12,141.50 282.01,140.75 281.90,140.00 281.80,139.25 281.70,138.50 281.60,137.75 281.51,137.00 281.42,136.25 281.34,135.50 281.27,134.75 281.21,134.00 281.15,133.25 281.10,132.50 281.06,131.75 281.01,131.00 280.97,130.25 280.93,129.50 280.90,128.75 280.86,128.00 280.83,127.25 280.80,126.50 280.78,125.75 280.77,125.00 280.75,124.25 280.75,123.50Z" fill="#b65255" stroke="#3a3a3a" stroke-width="1.38" stroke-linejoin="round"/>
<line x1="280.7" x2="280.7" y1="140" y2="204.2" stroke="#3a3a3a" stroke-width="1.35"/>
<line x1="280.7" x2="280.7" y1="166.2" y2="190.7" stroke="#3a3a3a" stroke-width="3.4"/>
<circle cx="280.7" cy="178.5" r="0.85" fill="#fff"/>
<path d="M312.95,98.00 312.93,98.75 312.90,99.50 312.87,100.25 312.84,101.00 312.80,101.75 312.76,102.50 312.73,103.25 312.68,104.00 312.64,104.75 312.59,105.50 312.55,106.25 312.50,107.00 312.45,107.75 312.39,108.50 312.34,109.25 312.29,110.00 312.23,110.75 312.18,111.50 312.12,112.25 312.05,113.00 311.99,113.75 311.92,114.50 311.84,115.25 311.76,116.00 311.68,116.75 311.59,117.50 311.51,118.25 311.41,119.00 311.31,119.75 311.19,120.50 311.07,121.25 310.95,122.00 310.82,122.75 310.70,123.50 310.58,124.25 310.46,125.00 310.35,125.75 310.24,126.50 310.13,127.25 310.03,128.00 309.92,128.75 309.82,129.50 309.72,130.25 309.61,131.00 309.51,131.75 309.40,132.50 309.30,133.25 309.20,134.00 309.10,134.75 309.01,135.50 308.91,136.25 308.81,137.00 308.70,137.75 308.58,138.50 308.45,139.25 308.30,140.00 308.11,140.75 307.88,141.50 307.61,142.25 307.31,143.00 307.00,143.75 306.69,144.50 306.39,145.25 306.12,146.00 305.89,146.75 305.71,147.50 305.54,148.25 305.39,149.00 305.25,149.75 305.12,150.50 304.99,151.25 304.87,152.00 304.75,152.75 304.62,153.50 304.49,154.25 304.36,155.00 304.22,155.75 304.08,156.50 303.94,157.25 303.80,158.00 303.67,158.75 303.54,159.50 303.43,160.25 303.33,161.00 303.23,161.75 303.15,162.50 303.07,163.25 303.00,164.00 302.93,164.75 302.86,165.50 302.79,166.25 302.72,167.00 302.65,167.75 302.58,168.50 302.51,169.25 302.43,170.00 302.36,170.75 302.28,171.50 302.21,172.25 302.14,173.00 302.06,173.75 301.99,174.50 301.91,175.25 301.84,176.00 301.76,176.75 301.67,177.50 301.59,178.25 301.51,179.00 301.43,179.75 301.35,180.50 301.29,181.25 301.23,182.00 301.19,182.75 301.14,183.50 301.10,184.25 301.06,185.00 301.02,185.75 300.99,186.50 300.95,187.25 300.93,188.00 300.91,188.75 300.90,189.50 300.90,190.25 300.93,191.00 300.98,191.75 301.07,192.50 301.17,193.25 301.29,194.00 301.43,194.75 301.57,195.50 301.72,196.25 301.88,197.00 302.05,197.75 302.28,198.50 302.54,199.25 302.83,200.00 303.15,200.75 303.48,201.50 303.82,202.25 304.17,203.00 304.50,203.75 304.83,204.50 305.17,205.25 305.52,206.00 305.88,206.75 306.25,207.50 306.62,208.25 306.99,209.00 307.34,209.75 307.69,210.50 308.02,211.25 308.35,212.00 308.67,212.75 308.99,213.50 309.31,214.25 309.62,215.00 309.92,215.75 310.20,216.50 310.46,217.25 310.71,218.00 310.93,218.75 311.16,219.50 311.38,220.25 311.60,221.00 311.81,221.75 312.00,222.50 312.17,223.25 312.31,224.00 312.43,224.75 312.51,225.50 312.57,226.25 312.64,227.00 312.69,227.75 312.74,228.50 312.79,229.25 312.83,230.00 312.86,230.75 312.88,231.50 312.90,232.25 312.91,233.00 312.91,233.75 312.92,234.50 312.93,235.25 312.93,236.00 312.94,236.75 312.94,237.50 312.94,238.25 312.95,239.00 312.95,239.75 312.95,240.50 312.95,240.90 313.05,240.90 313.05,240.50 313.05,239.75 313.05,239.00 313.06,238.25 313.06,237.50 313.06,236.75 313.07,236.00 313.07,235.25 313.08,234.50 313.09,233.75 313.09,233.00 313.10,232.25 313.12,231.50 313.14,230.75 313.17,230.00 313.21,229.25 313.26,228.50 313.31,227.75 313.36,227.00 313.43,226.25 313.49,225.50 313.57,224.75 313.69,224.00 313.83,223.25 314.00,222.50 314.19,221.75 314.40,221.00 314.62,220.25 314.84,219.50 315.07,218.75 315.29,218.00 315.54,217.25 315.80,216.50 316.08,215.75 316.38,215.00 316.69,214.25 317.01,213.50 317.33,212.75 317.65,212.00 317.98,211.25 318.31,210.50 318.66,209.75 319.01,209.00 319.38,208.25 319.75,207.50 320.12,206.75 320.48,206.00 320.83,205.25 321.17,204.50 321.50,203.75 321.83,203.00 322.18,202.25 322.52,201.50 322.85,200.75 323.17,200.00 323.46,199.25 323.72,198.50 323.95,197.75 324.12,197.00 324.28,196.25 324.43,195.50 324.57,194.75 324.71,194.00 324.83,193.25 324.93,192.50 325.02,191.75 325.07,191.00 325.10,190.25 325.10,189.50 325.09,188.75 325.07,188.00 325.05,187.25 325.01,186.50 324.98,185.75 324.94,185.00 324.90,184.25 324.86,183.50 324.81,182.75 324.77,182.00 324.71,181.25 324.65,180.50 324.57,179.75 324.49,179.00 324.41,178.25 324.33,177.50 324.24,176.75 324.16,176.00 324.09,175.25 324.01,174.50 323.94,173.75 323.86,173.00 323.79,172.25 323.72,171.50 323.64,170.75 323.57,170.00 323.49,169.25 323.42,168.50 323.35,167.75 323.28,167.00 323.21,166.25 323.14,165.50 323.07,164.75 323.00,164.00 322.93,163.25 322.85,162.50 322.77,161.75 322.67,161.00 322.57,160.25 322.46,159.50 322.33,158.75 322.20,158.00 322.06,157.25 321.92,156.50 321.78,155.75 321.64,155.00 321.51,154.25 321.38,153.50 321.25,152.75 321.13,152.00 321.01,151.25 320.88,150.50 320.75,149.75 320.61,149.00 320.46,148.25 320.29,147.50 320.11,146.75 319.88,146.00 319.61,145.25 319.31,144.50 319.00,143.75 318.69,143.00 318.39,142.25 318.12,141.50 317.89,140.75 317.70,140.00 317.55,139.25 317.42,138.50 317.30,137.75 317.19,137.00 317.09,136.25 316.99,135.50 316.90,134.75 316.80,134.00 316.70,133.25 316.60,132.50 316.49,131.75 316.39,131.00 316.28,130.25 316.18,129.50 316.08,128.75 315.97,128.00 315.87,127.25 315.76,126.50 315.65,125.75 315.54,125.00 315.42,124.25 315.30,123.50 315.18,122.75 315.05,122.00 314.93,121.25 314.81,120.50 314.69,119.75 314.59,119.00 314.49,118.25 314.41,117.50 314.32,116.75 314.24,116.00 314.16,115.25 314.08,114.50 314.01,113.75 313.95,113.00 313.88,112.25 313.82,111.50 313.77,110.75 313.71,110.00 313.66,109.25 313.61,108.50 313.55,107.75 313.50,107.00 313.45,106.25 313.41,105.50 313.36,104.75 313.32,104.00 313.27,103.25 313.24,102.50 313.20,101.75 313.16,101.00 313.13,100.25 313.10,99.50 313.07,98.75 313.05,98.00Z" fill="#b65255" stroke="#3a3a3a" stroke-width="1.38" stroke-linejoin="round"/>
<line x1="313.0" x2="313.0" y1="118" y2="219" stroke="#3a3a3a" stroke-width="1.35"/>
<line x1="313.0" x2="313.0" y1="156.3" y2="195.7" stroke="#3a3a3a" stroke-width="3.4"/>
<circle cx="313.0" cy="183.9" r="0.85" fill="#fff"/>
<path d="M345.05,109.80 345.05,110.55 345.05,111.30 345.05,112.05 345.05,112.80 345.05,113.55 345.05,114.30 345.05,115.05 345.05,115.80 345.05,116.55 345.05,117.30 345.05,118.05 345.05,118.80 345.05,119.55 345.05,120.30 345.05,121.05 345.05,121.80 345.04,122.55 345.04,123.30 345.04,124.05 345.04,124.80 345.04,125.55 345.04,126.30 345.04,127.05 345.04,127.80 345.04,128.55 345.03,129.30 345.03,130.05 345.03,130.80 345.03,131.55 345.03,132.30 345.02,133.05 345.02,133.80 345.02,134.55 345.02,135.30 345.01,136.05 345.01,136.80 345.01,137.55 345.01,138.30 345.00,139.05 345.00,139.80 344.91,140.55 344.73,141.30 344.52,142.05 344.33,142.80 344.16,143.55 343.99,144.30 343.82,145.05 343.64,145.80 343.45,146.55 343.26,147.30 343.04,148.05 342.81,148.80 342.56,149.55 342.28,150.30 341.94,151.05 341.53,151.80 341.08,152.55 340.60,153.30 340.09,154.05 339.58,154.80 339.07,155.55 338.58,156.30 338.13,157.05 337.69,157.80 337.24,158.55 336.79,159.30 336.35,160.05 335.91,160.80 335.49,161.55 335.08,162.30 334.71,163.05 334.37,163.80 334.06,164.55 333.73,165.30 333.41,166.05 333.10,166.80 332.82,167.55 332.60,168.30 332.45,169.05 332.40,169.80 332.42,170.55 332.47,171.30 332.56,172.05 332.67,172.80 332.80,173.55 332.95,174.30 333.10,175.05 333.27,175.80 333.51,176.55 333.83,177.30 334.19,178.05 334.58,178.80 334.99,179.55 335.38,180.30 335.73,181.05 336.06,181.80 336.40,182.55 336.73,183.30 337.06,184.05 337.37,184.80 337.67,185.55 337.94,186.30 338.18,187.05 338.39,187.80 338.59,188.55 338.77,189.30 338.94,190.05 339.11,190.80 339.28,191.55 339.45,192.30 339.63,193.05 339.82,193.80 340.01,194.55 340.21,195.30 340.39,196.05 340.58,196.80 340.75,197.55 340.91,198.30 341.05,199.05 341.17,199.80 341.27,200.55 341.35,201.30 341.41,202.05 341.48,202.80 341.54,203.55 341.62,204.30 341.71,205.05 341.82,205.80 341.96,206.55 342.11,207.30 342.27,208.05 342.45,208.80 342.62,209.55 342.80,210.30 342.97,211.05 343.14,211.80 343.29,212.55 343.46,213.30 343.64,214.05 343.81,214.80 343.98,215.55 344.15,216.30 344.30,217.05 344.43,217.80 344.53,218.55 344.61,219.30 344.67,220.05 344.73,220.80 344.79,221.55 344.84,222.30 344.89,223.05 344.93,223.80 344.97,224.55 345.00,225.30 345.03,226.05 345.04,226.80 345.05,227.55 345.05,227.80 345.15,227.80 345.15,227.55 345.16,226.80 345.17,226.05 345.20,225.30 345.23,224.55 345.27,223.80 345.31,223.05 345.36,222.30 345.41,221.55 345.47,220.80 345.53,220.05 345.59,219.30 345.67,218.55 345.77,217.80 345.90,217.05 346.05,216.30 346.22,215.55 346.39,214.80 346.56,214.05 346.74,213.30 346.91,212.55 347.06,211.80 347.23,211.05 347.40,210.30 347.58,209.55 347.75,208.80 347.93,208.05 348.09,207.30 348.24,206.55 348.38,205.80 348.49,205.05 348.58,204.30 348.66,203.55 348.72,202.80 348.79,202.05 348.85,201.30 348.93,200.55 349.03,199.80 349.15,199.05 349.29,198.30 349.45,197.55 349.62,196.80 349.81,196.05 349.99,195.30 350.19,194.55 350.38,193.80 350.57,193.05 350.75,192.30 350.92,191.55 351.09,190.80 351.26,190.05 351.43,189.30 351.61,188.55 351.81,187.80 352.02,187.05 352.26,186.30 352.53,185.55 352.83,184.80 353.14,184.05 353.47,183.30 353.80,182.55 354.14,181.80 354.47,181.05 354.82,180.30 355.21,179.55 355.62,178.80 356.01,178.05 356.37,177.30 356.69,176.55 356.93,175.80 357.10,175.05 357.25,174.30 357.40,173.55 357.53,172.80 357.64,172.05 357.73,171.30 357.78,170.55 357.80,169.80 357.75,169.05 357.60,168.30 357.38,167.55 357.10,166.80 356.79,166.05 356.47,165.30 356.14,164.55 355.83,163.80 355.49,163.05 355.12,162.30 354.71,161.55 354.29,160.80 353.85,160.05 353.41,159.30 352.96,158.55 352.51,157.80 352.07,157.05 351.62,156.30 351.13,155.55 350.62,154.80 350.11,154.05 349.60,153.30 349.12,152.55 348.67,151.80 348.26,151.05 347.92,150.30 347.64,149.55 347.39,148.80 347.16,148.05 346.94,147.30 346.75,146.55 346.56,145.80 346.38,145.05 346.21,144.30 346.04,143.55 345.87,142.80 345.68,142.05 345.47,141.30 345.29,140.55 345.20,139.80 345.20,139.05 345.19,138.30 345.19,137.55 345.19,136.80 345.19,136.05 345.18,135.30 345.18,134.55 345.18,133.80 345.18,133.05 345.17,132.30 345.17,131.55 345.17,130.80 345.17,130.05 345.17,129.30 345.16,128.55 345.16,127.80 345.16,127.05 345.16,126.30 345.16,125.55 345.16,124.80 345.16,124.05 345.16,123.30 345.16,122.55 345.15,121.80 345.15,121.05 345.15,120.30 345.15,119.55 345.15,118.80 345.15,118.05 345.15,117.30 345.15,116.55 345.15,115.80 345.15,115.05 345.15,114.30 345.15,113.55 345.15,112.80 345.15,112.05 345.15,111.30 345.15,110.55 345.15,109.80Z" fill="#b65255" stroke="#3a3a3a" stroke-width="1.38" stroke-linejoin="round"/>
<line x1="345.1" x2="345.1" y1="150" y2="212" stroke="#3a3a3a" stroke-width="1.35"/>
<line x1="345.1" x2="345.1" y1="166.3" y2="186.8" stroke="#3a3a3a" stroke-width="3.4"/>
<circle cx="345.1" cy="173.4" r="0.85" fill="#fff"/>
<path d="M377.35,65.20 377.11,65.95 376.73,66.70 376.27,67.45 375.70,68.20 374.94,68.95 374.04,69.70 373.09,70.45 372.07,71.20 370.92,71.95 369.78,72.70 368.85,73.45 368.09,74.20 367.42,74.95 366.84,75.70 366.34,76.45 365.85,77.20 365.42,77.95 365.10,78.70 364.93,79.45 364.81,80.20 364.70,80.95 364.63,81.70 364.60,82.45 364.64,83.20 364.77,83.95 364.98,84.70 365.23,85.45 365.50,86.20 365.83,86.95 366.27,87.70 366.78,88.45 367.35,89.20 367.94,89.95 368.54,90.70 369.21,91.45 369.93,92.20 370.69,92.95 371.47,93.70 372.25,94.45 373.03,95.20 373.88,95.95 374.69,96.70 375.36,97.45 375.90,98.20 376.38,98.95 376.77,99.70 377.04,100.45 377.24,101.20 377.35,101.90 377.45,101.90 377.56,101.20 377.76,100.45 378.03,99.70 378.42,98.95 378.90,98.20 379.44,97.45 380.11,96.70 380.92,95.95 381.77,95.20 382.55,94.45 383.33,93.70 384.11,92.95 384.87,92.20 385.59,91.45 386.26,90.70 386.86,89.95 387.45,89.20 388.02,88.45 388.53,87.70 388.97,86.95 389.30,86.20 389.57,85.45 389.82,84.70 390.03,83.95 390.16,83.20 390.20,82.45 390.17,81.70 390.10,80.95 389.99,80.20 389.87,79.45 389.70,78.70 389.38,77.95 388.95,77.20 388.46,76.45 387.96,75.70 387.38,74.95 386.71,74.20 385.95,73.45 385.02,72.70 383.88,71.95 382.73,71.20 381.71,70.45 380.76,69.70 379.86,68.95 379.10,68.20 378.53,67.45 378.07,66.70 377.69,65.95 377.45,65.20Z" fill="#5b9d64" stroke="#3a3a3a" stroke-width="1.38" stroke-linejoin="round"/>
<line x1="377.4" x2="377.4" y1="70.6" y2="96" stroke="#3a3a3a" stroke-width="1.35"/>
<line x1="377.4" x2="377.4" y1="76" y2="89.4" stroke="#3a3a3a" stroke-width="3.4"/>
<circle cx="377.4" cy="83.3" r="0.85" fill="#fff"/>
<path d="M409.65,59.80 409.51,60.55 409.29,61.30 409.02,62.05 408.67,62.80 408.21,63.55 407.66,64.30 407.06,65.05 406.43,65.80 405.69,66.55 404.86,67.30 403.98,68.05 403.13,68.80 402.33,69.55 401.48,70.30 400.65,71.05 399.89,71.80 399.29,72.55 398.85,73.30 398.46,74.05 398.13,74.80 397.87,75.55 397.68,76.30 397.54,77.05 397.42,77.80 397.32,78.55 397.24,79.30 397.18,80.05 397.12,80.80 397.06,81.55 397.02,82.30 397.00,83.05 397.00,83.80 397.03,84.55 397.07,85.30 397.12,86.05 397.19,86.80 397.30,87.55 397.50,88.30 397.78,89.05 398.11,89.80 398.48,90.55 399.00,91.30 399.68,92.05 400.45,92.80 401.24,93.55 402.01,94.30 402.83,95.05 403.69,95.80 404.53,96.55 405.31,97.30 406.01,98.05 406.68,98.80 407.31,99.55 407.87,100.30 408.33,101.05 408.71,101.80 409.05,102.55 409.33,103.30 409.53,104.05 409.65,104.70 409.75,104.70 409.87,104.05 410.07,103.30 410.35,102.55 410.69,101.80 411.07,101.05 411.53,100.30 412.09,99.55 412.72,98.80 413.39,98.05 414.09,97.30 414.87,96.55 415.71,95.80 416.57,95.05 417.39,94.30 418.16,93.55 418.95,92.80 419.72,92.05 420.40,91.30 420.92,90.55 421.29,89.80 421.62,89.05 421.90,88.30 422.10,87.55 422.21,86.80 422.28,86.05 422.33,85.30 422.37,84.55 422.40,83.80 422.40,83.05 422.38,82.30 422.34,81.55 422.28,80.80 422.22,80.05 422.16,79.30 422.08,78.55 421.98,77.80 421.86,77.05 421.72,76.30 421.53,75.55 421.27,74.80 420.94,74.05 420.55,73.30 420.11,72.55 419.51,71.80 418.75,71.05 417.92,70.30 417.07,69.55 416.27,68.80 415.42,68.05 414.54,67.30 413.71,66.55 412.97,65.80 412.34,65.05 411.74,64.30 411.19,63.55 410.73,62.80 410.38,62.05 410.11,61.30 409.89,60.55 409.75,59.80Z" fill="#5b9d64" stroke="#3a3a3a" stroke-width="1.38" stroke-linejoin="round"/>
<line x1="409.7" x2="409.7" y1="67" y2="96.8" stroke="#3a3a3a" stroke-width="1.35"/>
<line x1="409.7" x2="409.7" y1="74.8" y2="90.1" stroke="#3a3a3a" stroke-width="3.4"/>
<circle cx="409.7" cy="82.6" r="0.85" fill="#fff"/>
<path d="M441.85,61.30 441.85,62.05 441.85,62.80 441.85,63.55 441.84,64.30 441.84,65.05 441.83,65.80 441.83,66.55 441.82,67.30 441.81,68.05 441.74,68.80 441.26,69.55 440.51,70.30 439.69,71.05 438.60,71.80 437.37,72.55 436.15,73.30 434.97,74.05 433.74,74.80 432.57,75.55 431.58,76.30 430.63,77.05 429.83,77.80 429.47,78.55 429.33,79.30 429.33,80.05 429.74,80.80 430.44,81.55 431.36,82.30 432.96,83.05 434.83,83.80 436.45,84.55 437.60,85.30 438.64,86.05 439.51,86.80 440.17,87.55 440.65,88.30 441.06,89.05 441.36,89.80 441.52,90.55 441.63,91.30 441.71,92.05 441.78,92.80 441.83,93.55 441.85,94.30 441.85,94.50 441.95,94.50 441.95,94.30 441.97,93.55 442.02,92.80 442.09,92.05 442.17,91.30 442.28,90.55 442.44,89.80 442.74,89.05 443.15,88.30 443.63,87.55 444.29,86.80 445.16,86.05 446.20,85.30 447.35,84.55 448.97,83.80 450.84,83.05 452.44,82.30 453.36,81.55 454.06,80.80 454.47,80.05 454.47,79.30 454.33,78.55 453.97,77.80 453.17,77.05 452.22,76.30 451.23,75.55 450.06,74.80 448.83,74.05 447.65,73.30 446.43,72.55 445.20,71.80 444.11,71.05 443.29,70.30 442.54,69.55 442.06,68.80 441.99,68.05 441.98,67.30 441.97,66.55 441.97,65.80 441.96,65.05 441.96,64.30 441.95,63.55 441.95,62.80 441.95,62.05 441.95,61.30Z" fill="#5b9d64" stroke="#3a3a3a" stroke-width="1.38" stroke-linejoin="round"/>
<line x1="441.9" x2="441.9" y1="69" y2="86.9" stroke="#3a3a3a" stroke-width="1.35"/>
<line x1="441.9" x2="441.9" y1="75.5" y2="82.6" stroke="#3a3a3a" stroke-width="3.4"/>
<circle cx="441.9" cy="79.1" r="0.85" fill="#fff"/>
<path d="M474.05,55.30 473.89,56.05 473.61,56.80 473.24,57.55 472.82,58.30 472.35,59.05 471.79,59.80 471.18,60.55 470.55,61.30 469.94,62.05 469.33,62.80 468.71,63.55 468.09,64.30 467.50,65.05 466.96,65.80 466.45,66.55 465.96,67.30 465.50,68.05 465.09,68.80 464.74,69.55 464.41,70.30 464.11,71.05 463.85,71.80 463.64,72.55 463.47,73.30 463.33,74.05 463.21,74.80 463.10,75.55 462.98,76.30 462.88,77.05 462.79,77.80 462.69,78.55 462.58,79.30 462.45,80.05 462.23,80.80 461.97,81.55 461.74,82.30 461.61,83.05 461.61,83.80 461.63,84.55 461.68,85.30 461.83,86.05 462.24,86.80 462.83,87.55 463.50,88.30 464.42,89.05 465.65,89.80 466.95,90.55 468.08,91.30 469.10,92.05 470.08,92.80 471.00,93.55 471.82,94.30 472.58,95.05 473.26,95.80 473.83,96.55 474.05,96.90 474.15,96.90 474.37,96.55 474.94,95.80 475.62,95.05 476.38,94.30 477.20,93.55 478.12,92.80 479.10,92.05 480.12,91.30 481.25,90.55 482.55,89.80 483.78,89.05 484.70,88.30 485.37,87.55 485.96,86.80 486.37,86.05 486.52,85.30 486.57,84.55 486.59,83.80 486.59,83.05 486.46,82.30 486.23,81.55 485.97,80.80 485.75,80.05 485.62,79.30 485.51,78.55 485.41,77.80 485.32,77.05 485.22,76.30 485.10,75.55 484.99,74.80 484.87,74.05 484.73,73.30 484.56,72.55 484.35,71.80 484.09,71.05 483.79,70.30 483.46,69.55 483.11,68.80 482.70,68.05 482.24,67.30 481.75,66.55 481.24,65.80 480.70,65.05 480.11,64.30 479.49,63.55 478.87,62.80 478.26,62.05 477.65,61.30 477.02,60.55 476.41,59.80 475.85,59.05 475.38,58.30 474.96,57.55 474.59,56.80 474.31,56.05 474.15,55.30Z" fill="#5b9d64" stroke="#3a3a3a" stroke-width="1.38" stroke-linejoin="round"/>
<line x1="474.1" x2="474.1" y1="62" y2="90.4" stroke="#3a3a3a" stroke-width="1.35"/>
<line x1="474.1" x2="474.1" y1="72" y2="87.6" stroke="#3a3a3a" stroke-width="3.4"/>
<circle cx="474.1" cy="79.1" r="0.85" fill="#fff"/>
<path d="M506.35,54.60 506.30,55.35 506.18,56.10 505.90,56.85 505.46,57.60 504.99,58.35 504.55,59.10 504.10,59.85 503.63,60.60 503.16,61.35 502.70,62.10 502.24,62.85 501.79,63.60 501.34,64.35 500.89,65.10 500.46,65.85 500.03,66.60 499.62,67.35 499.20,68.10 498.79,68.85 498.38,69.60 497.96,70.35 497.55,71.10 497.15,71.85 496.75,72.60 496.36,73.35 495.97,74.10 495.59,74.85 495.24,75.60 494.94,76.35 494.67,77.10 494.42,77.85 494.19,78.60 493.99,79.35 493.84,80.10 493.69,80.85 493.57,81.60 493.51,82.35 493.58,83.10 493.97,83.85 494.54,84.60 495.18,85.35 495.87,86.10 496.75,86.85 497.71,87.60 498.66,88.35 499.61,89.10 500.59,89.85 501.53,90.60 502.37,91.35 503.19,92.10 503.95,92.85 504.61,93.60 505.13,94.35 505.57,95.10 505.91,95.85 506.15,96.60 506.32,97.35 506.35,97.60 506.45,97.60 506.48,97.35 506.65,96.60 506.89,95.85 507.23,95.10 507.67,94.35 508.19,93.60 508.85,92.85 509.61,92.10 510.43,91.35 511.27,90.60 512.21,89.85 513.19,89.10 514.14,88.35 515.09,87.60 516.05,86.85 516.93,86.10 517.62,85.35 518.26,84.60 518.83,83.85 519.22,83.10 519.29,82.35 519.23,81.60 519.11,80.85 518.96,80.10 518.81,79.35 518.61,78.60 518.38,77.85 518.13,77.10 517.86,76.35 517.56,75.60 517.21,74.85 516.83,74.10 516.44,73.35 516.05,72.60 515.65,71.85 515.25,71.10 514.84,70.35 514.42,69.60 514.01,68.85 513.60,68.10 513.18,67.35 512.77,66.60 512.34,65.85 511.91,65.10 511.46,64.35 511.01,63.60 510.56,62.85 510.10,62.10 509.64,61.35 509.17,60.60 508.70,59.85 508.25,59.10 507.81,58.35 507.34,57.60 506.90,56.85 506.62,56.10 506.50,55.35 506.45,54.60Z" fill="#5b9d64" stroke="#3a3a3a" stroke-width="1.38" stroke-linejoin="round"/>
<line x1="506.4" x2="506.4" y1="59.2" y2="90.4" stroke="#3a3a3a" stroke-width="1.35"/>
<line x1="506.4" x2="506.4" y1="71.3" y2="86.2" stroke="#3a3a3a" stroke-width="3.4"/>
<circle cx="506.4" cy="79.8" r="0.85" fill="#fff"/>
<path d="M538.65,59.30 538.24,60.05 537.73,60.80 537.09,61.55 536.34,62.30 535.51,63.05 534.48,63.80 533.39,64.55 532.41,65.30 531.68,66.05 531.01,66.80 530.42,67.55 529.92,68.30 529.56,69.05 529.32,69.80 529.14,70.55 529.00,71.30 528.85,72.05 528.67,72.80 528.45,73.55 528.21,74.30 527.96,75.05 527.72,75.80 527.50,76.55 527.27,77.30 527.05,78.05 526.84,78.80 526.66,79.55 526.49,80.30 526.31,81.05 526.16,81.80 526.10,82.55 526.17,83.30 526.37,84.05 526.64,84.80 527.25,85.55 528.21,86.30 529.32,87.05 530.38,87.80 531.52,88.55 532.72,89.30 533.84,90.05 534.79,90.80 535.66,91.55 536.44,92.30 537.09,93.05 537.61,93.80 538.05,94.55 538.37,95.30 538.57,96.05 538.65,96.60 538.75,96.60 538.83,96.05 539.03,95.30 539.35,94.55 539.79,93.80 540.31,93.05 540.96,92.30 541.74,91.55 542.61,90.80 543.56,90.05 544.68,89.30 545.88,88.55 547.02,87.80 548.08,87.05 549.19,86.30 550.15,85.55 550.76,84.80 551.03,84.05 551.23,83.30 551.30,82.55 551.24,81.80 551.09,81.05 550.91,80.30 550.74,79.55 550.56,78.80 550.35,78.05 550.13,77.30 549.90,76.55 549.68,75.80 549.44,75.05 549.19,74.30 548.95,73.55 548.73,72.80 548.55,72.05 548.40,71.30 548.26,70.55 548.08,69.80 547.84,69.05 547.48,68.30 546.98,67.55 546.39,66.80 545.72,66.05 544.99,65.30 544.01,64.55 542.92,63.80 541.89,63.05 541.06,62.30 540.31,61.55 539.67,60.80 539.16,60.05 538.75,59.30Z" fill="#5b9d64" stroke="#3a3a3a" stroke-width="1.38" stroke-linejoin="round"/>
<line x1="538.7" x2="538.7" y1="65.6" y2="90.4" stroke="#3a3a3a" stroke-width="1.35"/>
<line x1="538.7" x2="538.7" y1="69.9" y2="86.2" stroke="#3a3a3a" stroke-width="3.4"/>
<circle cx="538.7" cy="77" r="0.85" fill="#fff"/>
<path d="M570.85,58.40 570.75,59.15 570.53,59.90 570.20,60.65 569.67,61.40 568.95,62.15 567.69,62.90 566.01,63.65 564.38,64.40 562.70,65.15 561.14,65.90 560.02,66.65 559.03,67.40 558.39,68.15 558.31,68.90 558.37,69.65 558.64,70.40 559.44,71.15 560.39,71.90 561.28,72.65 562.26,73.40 563.26,74.15 564.22,74.90 565.18,75.65 566.12,76.40 567.01,77.15 567.80,77.90 568.57,78.65 569.27,79.40 569.82,80.15 570.17,80.90 570.46,81.65 570.68,82.40 570.79,83.15 570.81,83.90 570.82,84.65 570.83,85.40 570.83,86.15 570.84,86.90 570.84,87.65 570.85,88.40 570.85,89.15 570.85,89.90 570.85,90.65 570.85,90.90 570.95,90.90 570.95,90.65 570.95,89.90 570.95,89.15 570.95,88.40 570.96,87.65 570.96,86.90 570.97,86.15 570.97,85.40 570.98,84.65 570.99,83.90 571.01,83.15 571.12,82.40 571.34,81.65 571.63,80.90 571.98,80.15 572.53,79.40 573.23,78.65 574.00,77.90 574.79,77.15 575.68,76.40 576.62,75.65 577.58,74.90 578.54,74.15 579.54,73.40 580.52,72.65 581.41,71.90 582.36,71.15 583.16,70.40 583.43,69.65 583.49,68.90 583.41,68.15 582.77,67.40 581.78,66.65 580.66,65.90 579.10,65.15 577.42,64.40 575.79,63.65 574.11,62.90 572.85,62.15 572.13,61.40 571.60,60.65 571.27,59.90 571.05,59.15 570.95,58.40Z" fill="#5b9d64" stroke="#3a3a3a" stroke-width="1.38" stroke-linejoin="round"/>
<line x1="570.9" x2="570.9" y1="60.7" y2="81.2" stroke="#3a3a3a" stroke-width="1.35"/>
<line x1="570.9" x2="570.9" y1="65.6" y2="74.1" stroke="#3a3a3a" stroke-width="3.4"/>
<circle cx="570.9" cy="69.6" r="0.85" fill="#fff"/>
<path d="M603.25,25.40 603.19,26.15 603.11,26.90 603.02,27.65 602.92,28.40 602.81,29.15 602.70,29.90 602.58,30.65 602.44,31.40 602.29,32.15 602.11,32.90 601.89,33.65 601.60,34.40 601.24,35.15 600.85,35.90 600.44,36.65 600.01,37.40 599.53,38.15 599.01,38.90 598.48,39.65 597.96,40.40 597.44,41.15 596.90,41.90 596.36,42.65 595.82,43.40 595.26,44.15 594.67,44.90 594.07,45.65 593.50,46.40 592.99,47.15 592.55,47.90 592.13,48.65 591.75,49.40 591.43,50.15 591.17,50.90 590.94,51.65 590.73,52.40 590.55,53.15 590.43,53.90 590.40,54.65 590.56,55.40 590.87,56.15 591.27,56.90 591.67,57.65 592.10,58.40 592.62,59.15 593.17,59.90 593.73,60.65 594.23,61.40 594.74,62.15 595.25,62.90 595.72,63.65 596.13,64.40 596.44,65.15 596.74,65.90 597.00,66.65 597.20,67.40 597.30,68.15 597.30,68.90 597.30,69.65 597.30,70.40 597.30,71.15 597.30,71.90 597.31,72.65 597.34,73.40 597.39,74.15 597.45,74.90 597.53,75.65 597.69,76.40 597.92,77.15 598.19,77.90 598.47,78.65 598.74,79.40 599.03,80.15 599.34,80.90 599.65,81.65 599.96,82.40 600.26,83.15 600.57,83.90 600.88,84.65 601.18,85.40 601.45,86.15 601.73,86.90 602.01,87.65 602.27,88.40 602.49,89.15 602.68,89.90 602.83,90.65 602.96,91.40 603.08,92.15 603.17,92.90 603.24,93.65 603.25,93.80 603.35,93.80 603.36,93.65 603.43,92.90 603.52,92.15 603.64,91.40 603.77,90.65 603.92,89.90 604.11,89.15 604.33,88.40 604.59,87.65 604.87,86.90 605.15,86.15 605.42,85.40 605.72,84.65 606.03,83.90 606.34,83.15 606.64,82.40 606.95,81.65 607.26,80.90 607.57,80.15 607.86,79.40 608.13,78.65 608.41,77.90 608.68,77.15 608.91,76.40 609.07,75.65 609.15,74.90 609.21,74.15 609.26,73.40 609.29,72.65 609.30,71.90 609.30,71.15 609.30,70.40 609.30,69.65 609.30,68.90 609.30,68.15 609.40,67.40 609.60,66.65 609.86,65.90 610.16,65.15 610.47,64.40 610.88,63.65 611.35,62.90 611.86,62.15 612.37,61.40 612.87,60.65 613.43,59.90 613.98,59.15 614.50,58.40 614.93,57.65 615.33,56.90 615.73,56.15 616.04,55.40 616.20,54.65 616.17,53.90 616.05,53.15 615.87,52.40 615.66,51.65 615.43,50.90 615.17,50.15 614.85,49.40 614.47,48.65 614.05,47.90 613.61,47.15 613.10,46.40 612.53,45.65 611.93,44.90 611.34,44.15 610.78,43.40 610.24,42.65 609.70,41.90 609.16,41.15 608.64,40.40 608.12,39.65 607.59,38.90 607.07,38.15 606.59,37.40 606.16,36.65 605.75,35.90 605.36,35.15 605.00,34.40 604.71,33.65 604.49,32.90 604.31,32.15 604.16,31.40 604.02,30.65 603.90,29.90 603.79,29.15 603.68,28.40 603.58,27.65 603.49,26.90 603.41,26.15 603.35,25.40Z" fill="#5b9d64" stroke="#3a3a3a" stroke-width="1.38" stroke-linejoin="round"/>
<line x1="603.3" x2="603.3" y1="35.5" y2="83" stroke="#3a3a3a" stroke-width="1.35"/>
<line x1="603.3" x2="603.3" y1="51" y2="71.8" stroke="#3a3a3a" stroke-width="3.4"/>
<circle cx="603.3" cy="57" r="0.85" fill="#fff"/>
<path d="M635.35,12.70 635.34,13.45 635.32,14.20 635.29,14.95 635.24,15.70 635.19,16.45 635.05,17.20 634.84,17.95 634.58,18.70 634.31,19.45 633.98,20.20 633.60,20.95 633.18,21.70 632.75,22.45 632.29,23.20 631.80,23.95 631.28,24.70 630.74,25.45 630.20,26.20 629.65,26.95 629.07,27.70 628.50,28.45 627.93,29.20 627.39,29.95 626.86,30.70 626.33,31.45 625.83,32.20 625.38,32.95 625.01,33.70 624.68,34.45 624.39,35.20 624.12,35.95 623.86,36.70 623.62,37.45 623.39,38.20 623.17,38.95 622.99,39.70 622.86,40.45 622.74,41.20 622.63,41.95 622.55,42.70 622.50,43.45 622.51,44.20 622.57,44.95 622.65,45.70 622.76,46.45 622.88,47.20 623.03,47.95 623.23,48.70 623.46,49.45 623.71,50.20 623.95,50.95 624.19,51.70 624.45,52.45 624.72,53.20 624.99,53.95 625.28,54.70 625.57,55.45 625.88,56.20 626.19,56.95 626.50,57.70 626.81,58.45 627.11,59.20 627.42,59.95 627.71,60.70 627.99,61.45 628.27,62.20 628.54,62.95 628.80,63.70 629.06,64.45 629.32,65.20 629.56,65.95 629.81,66.70 630.04,67.45 630.27,68.20 630.49,68.95 630.71,69.70 630.93,70.45 631.14,71.20 631.34,71.95 631.54,72.70 631.73,73.45 631.92,74.20 632.10,74.95 632.27,75.70 632.43,76.45 632.60,77.20 632.76,77.95 632.91,78.70 633.06,79.45 633.20,80.20 633.34,80.95 633.47,81.70 633.59,82.45 633.71,83.20 633.82,83.95 633.93,84.70 634.03,85.45 634.13,86.20 634.22,86.95 634.32,87.70 634.41,88.45 634.50,89.20 634.59,89.95 634.69,90.70 634.80,91.45 634.91,92.20 635.01,92.95 635.11,93.70 635.19,94.45 635.26,95.20 635.30,95.95 635.31,96.70 635.33,97.45 635.34,98.20 635.35,98.95 635.35,99.70 635.45,99.70 635.45,98.95 635.46,98.20 635.47,97.45 635.49,96.70 635.50,95.95 635.54,95.20 635.61,94.45 635.69,93.70 635.79,92.95 635.89,92.20 636.00,91.45 636.11,90.70 636.21,89.95 636.30,89.20 636.39,88.45 636.48,87.70 636.58,86.95 636.67,86.20 636.77,85.45 636.87,84.70 636.98,83.95 637.09,83.20 637.21,82.45 637.33,81.70 637.46,80.95 637.60,80.20 637.74,79.45 637.89,78.70 638.04,77.95 638.20,77.20 638.37,76.45 638.53,75.70 638.70,74.95 638.88,74.20 639.07,73.45 639.26,72.70 639.46,71.95 639.66,71.20 639.87,70.45 640.09,69.70 640.31,68.95 640.53,68.20 640.76,67.45 640.99,66.70 641.24,65.95 641.48,65.20 641.74,64.45 642.00,63.70 642.26,62.95 642.53,62.20 642.81,61.45 643.09,60.70 643.38,59.95 643.69,59.20 643.99,58.45 644.30,57.70 644.61,56.95 644.92,56.20 645.23,55.45 645.52,54.70 645.81,53.95 646.08,53.20 646.35,52.45 646.61,51.70 646.85,50.95 647.09,50.20 647.34,49.45 647.57,48.70 647.77,47.95 647.92,47.20 648.04,46.45 648.15,45.70 648.23,44.95 648.29,44.20 648.30,43.45 648.25,42.70 648.17,41.95 648.06,41.20 647.94,40.45 647.81,39.70 647.63,38.95 647.41,38.20 647.18,37.45 646.94,36.70 646.68,35.95 646.41,35.20 646.12,34.45 645.79,33.70 645.42,32.95 644.97,32.20 644.47,31.45 643.94,30.70 643.41,29.95 642.87,29.20 642.30,28.45 641.73,27.70 641.15,26.95 640.60,26.20 640.06,25.45 639.52,24.70 639.00,23.95 638.51,23.20 638.05,22.45 637.62,21.70 637.20,20.95 636.82,20.20 636.49,19.45 636.22,18.70 635.96,17.95 635.75,17.20 635.61,16.45 635.56,15.70 635.51,14.95 635.48,14.20 635.46,13.45 635.45,12.70Z" fill="#5b9d64" stroke="#3a3a3a" stroke-width="1.38" stroke-linejoin="round"/>
<line x1="635.4" x2="635.4" y1="27" y2="85.8" stroke="#3a3a3a" stroke-width="1.35"/>
<line x1="635.4" x2="635.4" y1="37.3" y2="60.6" stroke="#3a3a3a" stroke-width="3.4"/>
<circle cx="635.4" cy="48" r="0.85" fill="#fff"/>
<path d="M667.55,26.80 667.46,27.55 667.33,28.30 667.18,29.05 667.00,29.80 666.79,30.55 666.54,31.30 666.24,32.05 665.92,32.80 665.58,33.55 665.21,34.30 664.78,35.05 664.33,35.80 663.84,36.55 663.29,37.30 662.62,38.05 662.02,38.80 661.66,39.55 661.35,40.30 660.81,41.05 660.06,41.80 659.25,42.55 658.36,43.30 657.42,44.05 656.60,44.80 655.81,45.55 655.21,46.30 655.02,47.05 654.92,47.80 654.92,48.55 655.16,49.30 655.61,50.05 656.14,50.80 656.68,51.55 657.36,52.30 658.14,53.05 658.92,53.80 659.61,54.55 660.26,55.30 660.90,56.05 661.50,56.80 662.09,57.55 662.65,58.30 663.21,59.05 663.75,59.80 664.23,60.55 664.65,61.30 665.02,62.05 665.35,62.80 665.65,63.55 665.93,64.30 666.18,65.05 666.44,65.80 666.68,66.55 666.89,67.30 667.06,68.05 667.18,68.80 667.29,69.55 667.39,70.30 667.46,71.05 667.50,71.80 667.51,72.55 667.51,73.30 667.52,74.05 667.52,74.80 667.53,75.55 667.53,76.30 667.54,77.05 667.54,77.80 667.54,78.55 667.54,79.30 667.55,80.05 667.55,80.80 667.55,81.55 667.55,82.30 667.55,83.05 667.55,83.60 667.65,83.60 667.65,83.05 667.65,82.30 667.65,81.55 667.65,80.80 667.65,80.05 667.66,79.30 667.66,78.55 667.66,77.80 667.66,77.05 667.67,76.30 667.67,75.55 667.68,74.80 667.68,74.05 667.69,73.30 667.69,72.55 667.70,71.80 667.74,71.05 667.81,70.30 667.91,69.55 668.02,68.80 668.14,68.05 668.31,67.30 668.52,66.55 668.76,65.80 669.02,65.05 669.27,64.30 669.55,63.55 669.85,62.80 670.18,62.05 670.55,61.30 670.97,60.55 671.45,59.80 671.99,59.05 672.55,58.30 673.11,57.55 673.70,56.80 674.30,56.05 674.94,55.30 675.59,54.55 676.28,53.80 677.06,53.05 677.84,52.30 678.52,51.55 679.06,50.80 679.59,50.05 680.04,49.30 680.28,48.55 680.28,47.80 680.18,47.05 679.99,46.30 679.39,45.55 678.60,44.80 677.78,44.05 676.84,43.30 675.95,42.55 675.14,41.80 674.39,41.05 673.85,40.30 673.54,39.55 673.18,38.80 672.58,38.05 671.91,37.30 671.36,36.55 670.87,35.80 670.42,35.05 669.99,34.30 669.62,33.55 669.28,32.80 668.96,32.05 668.66,31.30 668.41,30.55 668.20,29.80 668.02,29.05 667.87,28.30 667.74,27.55 667.65,26.80Z" fill="#5b9d64" stroke="#3a3a3a" stroke-width="1.38" stroke-linejoin="round"/>
<line x1="667.6" x2="667.6" y1="32.6" y2="67.6" stroke="#3a3a3a" stroke-width="1.35"/>
<line x1="667.6" x2="667.6" y1="42.5" y2="53.5" stroke="#3a3a3a" stroke-width="3.4"/>
<circle cx="667.6" cy="47.5" r="0.85" fill="#fff"/>
</g>
<rect x="38.8" y="1.3" width="645.1" height="251.1" fill="none" stroke="#d9d9d9" stroke-width="1.4"/>
<g id="ylabels">
<text x="31.5" y="34.1" text-anchor="end">10</text>
<text x="31.5" y="86.1" text-anchor="end">5</text>
<text x="31.5" y="138.2" text-anchor="end">0</text>
<text x="31.5" y="190.3" text-anchor="end">−5</text>
<text x="31.5" y="242.4" text-anchor="end">−10</text>
</g>
<text transform="translate(9.0,127.6) rotate(-90)" text-anchor="middle" style="font-size:9.4px">predicted IC50</text>
<g id="xlabels">
<text transform="translate(48.72,308.76) rotate(-70)" style="font-size:8.5px">Bortezomib</text>
<text transform="translate(80.11,313.43) rotate(-70)" style="font-size:8.5px">Epothilone B</text>
<text transform="translate(117.16,287.01) rotate(-70)" style="font-size:8.5px">SN-38</text>
<text transform="translate(137.07,354.76) rotate(-70)" style="font-size:8.5px">Sepantronium bromide</text>
<text transform="translate(177.97,307.15) rotate(-70)" style="font-size:8.5px">Vinblastine</text>
<text transform="translate(208.84,314.67) rotate(-70)" style="font-size:8.5px">Thapsigargin</text>
<text transform="translate(242.32,307.88) rotate(-70)" style="font-size:8.5px">Vinorelbine</text>
<text transform="translate(275.86,300.74) rotate(-70)" style="font-size:8.5px">Paclitaxel</text>
<text transform="translate(307.42,304.44) rotate(-70)" style="font-size:8.5px">Daporinad</text>
<text transform="translate(339.55,305.06) rotate(-70)" style="font-size:8.5px">Omipalisib</text>
<text transform="translate(371.29,307.83) rotate(-70)" style="font-size:8.5px">NSC-87877</text>
<text transform="translate(403.84,306.10) rotate(-70)" style="font-size:8.5px">FR-180204</text>
<text transform="translate(433.52,320.19) rotate(-70)" style="font-size:8.5px">Temozolomide</text>
<text transform="translate(469.61,299.04) rotate(-70)" style="font-size:8.5px">Selisistat</text>
<text transform="translate(501.69,299.89) rotate(-70)" style="font-size:8.5px">GW-2580</text>
<text transform="translate(532.68,306.77) rotate(-70)" style="font-size:8.5px">Zibotentan</text>
<text transform="translate(565.01,306.29) rotate(-70)" style="font-size:8.5px">Cetuximab</text>
<text transform="translate(600.50,288.43) rotate(-70)" style="font-size:8.5px">DMOG</text>
<text transform="translate(629.05,308.67) rotate(-70)" style="font-size:8.5px">Phenformin</text>
<text transform="translate(654.88,343.91) rotate(-70)" style="font-size:8.5px">AICA Ribonucleotide</text>
</g>
</svg>
</body></html>
